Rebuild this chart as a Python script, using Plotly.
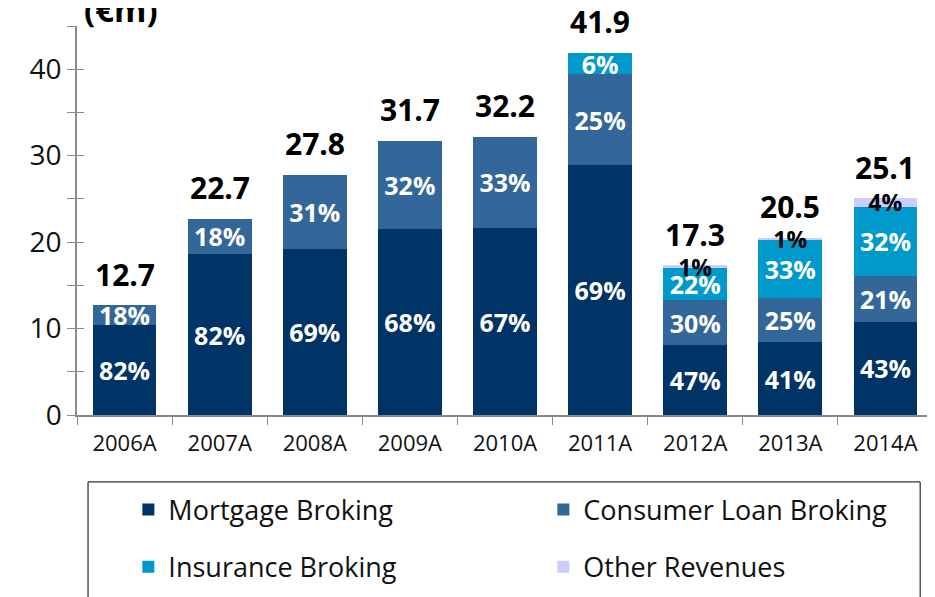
import plotly.graph_objects as go

# Revenues by business line (EUR m)
years = ["2006A", "2007A", "2008A", "2009A", "2010A", "2011A", "2012A", "2013A", "2014A"]
mortgage = [10.4, 18.6, 19.2, 21.5, 21.6, 28.9, 8.1, 8.4, 10.8]
consumer = [2.3, 4.1, 8.6, 10.2, 10.6, 10.5, 5.2, 5.1, 5.3]
insurance = [0, 0, 0, 0, 0, 2.5, 3.8, 6.8, 8.0]
other = [0, 0, 0, 0, 0, 0, 0.2, 0.2, 1.0]
totals = [12.7, 22.7, 27.8, 31.7, 32.2, 41.9, 17.3, 20.5, 25.1]

mortgage_pct = ["82%", "82%", "69%", "68%", "67%", "69%", "47%", "41%", "43%"]
consumer_pct = ["18%", "18%", "31%", "32%", "33%", "25%", "30%", "25%", "21%"]
insurance_pct = ["", "", "", "", "", "6%", "22%", "33%", "32%"]
other_pct = ["", "", "", "", "", "", "1%", "1%", "4%"]

FONT = "Open Sans, DejaVu Sans, sans-serif"
AXIS_GREY = "#8a8a8a"

fig = go.Figure()

series = [
    ("Mortgage Broking", mortgage, mortgage_pct, "#003366", "legend"),
    ("Consumer Loan Broking", consumer, consumer_pct, "#336699", "legend"),
    ("Insurance Broking", insurance, insurance_pct, "#0099cc", "legend2"),
]
for name, vals, pct, color, leg in series:
    fig.add_trace(go.Bar(
        x=years, y=vals, name=name, legend=leg,
        marker=dict(color=color, line=dict(width=0)),
        text=pct, textposition="inside", insidetextanchor="middle",
        textangle=0,
        textfont=dict(family=FONT, size=25, color="white", weight="bold"),
    ))

fig.add_trace(go.Bar(
    x=years, y=other, name="Other Revenues", legend="legend2",
    marker=dict(color="#ccccff", line=dict(width=0)),
    text=other_pct,
    textposition=["none"] * 6 + ["inside", "inside", "inside"],
    insidetextanchor="middle", textangle=0, cliponaxis=False,
    textfont=dict(family=FONT, size=23, color="black", weight="bold"),
))

# totals above each stack
for yr, tot in zip(years, totals):
    fig.add_annotation(
        x=yr, y=tot, text=f"{tot:.1f}", showarrow=False,
        yanchor="middle", yshift=31,
        font=dict(family=FONT, size=30, color="black", weight="bold"),
    )

# unit label, partly cut by the top edge as in the original
fig.add_annotation(
    text="(€m)", xref="paper", yref="paper", x=0.006, y=1.043,
    xanchor="left", yanchor="middle", showarrow=False,
    font=dict(family=FONT, size=33, color="black", weight="bold"),
)

# legend frame
fig.add_shape(type="rect", xref="paper", yref="paper",
              x0=0.0129, x1=0.985, y0=-0.172, y1=-0.6,
              line=dict(color="black", width=1), fillcolor="rgba(0,0,0,0)")

legend_font = dict(family=FONT, size=27, color="#111111")

fig.update_layout(
    width=935, height=597,
    margin=dict(l=69, r=10, t=18, b=190, autoexpand=False),
    barmode="stack", bargap=0.33,
    plot_bgcolor="white", paper_bgcolor="white",
    font=dict(family=FONT, color="#111111"),
    uniformtext=dict(minsize=23, mode="show"),
    xaxis=dict(
        showline=True, linecolor=AXIS_GREY, linewidth=1.5,
        ticks="outside", tickson="boundaries", ticklen=8, tickcolor=AXIS_GREY,
        tickfont=dict(family=FONT, size=22, color="#111111"),
        ticklabelstandoff=8, showgrid=False,
    ),
    yaxis=dict(
        range=[0, 45], dtick=10, showgrid=False, zeroline=False,
        showline=True, linecolor=AXIS_GREY, linewidth=1.5,
        ticks="outside", ticklen=8, tickcolor=AXIS_GREY,
        minor=dict(dtick=5, ticks="outside", ticklen=8, tickcolor=AXIS_GREY),
        tickfont=dict(family=FONT, size=28, color="#111111"),
    ),
    yaxis2=dict(
        range=[0, 45], overlaying="y", side="left", showgrid=False,
        zeroline=False, showticklabels=False,
        ticks="inside", dtick=5, ticklen=7, tickcolor=AXIS_GREY,
    ),
    legend=dict(
        orientation="h", x=0.06, xanchor="left", y=-0.244, yanchor="middle",
        entrywidth=370, entrywidthmode="pixels",
        font=legend_font, bgcolor="rgba(0,0,0,0)", traceorder="normal",
    ),
    legend2=dict(
        orientation="h", x=0.06, xanchor="left", y=-0.391, yanchor="middle",
        entrywidth=370, entrywidthmode="pixels",
        font=legend_font, bgcolor="rgba(0,0,0,0)", traceorder="normal",
    ),
)

# invisible trace so the overlay axis (crossing ticks) is drawn
fig.add_trace(go.Scatter(x=[years[0]], y=[0], yaxis="y2", mode="markers",
                         marker=dict(opacity=0), showlegend=False,
                         hoverinfo="skip"))

fig.write_html("out.html")
